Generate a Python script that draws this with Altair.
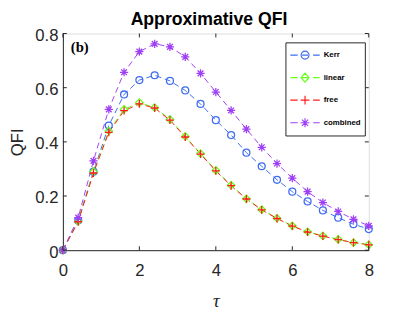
import altair as alt
import pandas as pd

# ---- data ----
tau = [0.0, 0.4, 0.8, 1.2, 1.6, 2.0, 2.4, 2.8, 3.2, 3.6, 4.0,
       4.4, 4.8, 5.2, 5.6, 6.0, 6.4, 6.8, 7.2, 7.6, 8.0]
kerr = [0.0, 0.11, 0.29, 0.46, 0.575, 0.628, 0.646, 0.625, 0.59, 0.54, 0.48,
        0.425, 0.36, 0.31, 0.26, 0.216, 0.18, 0.147, 0.12, 0.096, 0.078]
linear = [0.0, 0.107, 0.29, 0.44, 0.52, 0.545, 0.527, 0.483, 0.42, 0.357, 0.295,
          0.24, 0.19, 0.15, 0.118, 0.09, 0.068, 0.053, 0.04, 0.028, 0.02]
free = [0.0, 0.105, 0.285, 0.435, 0.515, 0.54, 0.525, 0.48, 0.418, 0.355, 0.293,
        0.238, 0.189, 0.149, 0.117, 0.089, 0.067, 0.052, 0.039, 0.028, 0.02]
combined = [0.0, 0.12, 0.33, 0.52, 0.657, 0.733, 0.762, 0.751, 0.714, 0.653, 0.584,
            0.516, 0.447, 0.38, 0.32, 0.266, 0.216, 0.176, 0.143, 0.114, 0.09]
series = ["Kerr", "linear", "free", "combined"]
x_ticks = [0, 2, 4, 6, 8]
y_ticks = [0, 0.2, 0.4, 0.6, 0.8]

# ---- styles ----
colors = ["#3f6cf2", "#66ff1a", "#ff1a1a", "#a040f5"]
PLUS = "M-1,0L1,0M0,-1L0,1"
AST = "M-1,0L1,0M0,-1L0,1M-0.7,-0.7L0.7,0.7M-0.7,0.7L0.7,-0.7"
plot_shapes = ["circle", "diamond", PLUS, AST]
plot_sizes = [50, 70, 81, 81]
legend_shapes = [
    "M-1,0L-0.5,0M-0.2,0L0.2,0M0.55,0L1,0M-0.27,0A0.27,0.27 0 1,1 0.27,0A0.27,0.27 0 1,1 -0.27,0",
    "M-1,0L-0.5,0M-0.2,0L0.2,0M0.55,0L1,0M-0.27,0L0,-0.3L0.27,0L0,0.3Z",
    "M-1,0L-0.5,0M0.55,0L1,0M-0.3,0L0.3,0M0,-0.3L0,0.3",
    "M-1,0L-0.5,0M0.55,0L1,0M-0.3,0L0.3,0M0,-0.3L0,0.3M-0.21,-0.21L0.21,0.21M-0.21,0.21L0.21,-0.21",
]
AX = "#262626"
W, H = 312, 221

rows = []
for name, vals in zip(series, [kerr, linear, free, combined]):
    for t, v in zip(tau, vals):
        rows.append({"tau": t, "QFI": v, "series": name})
df = pd.DataFrame(rows)

x_axis = alt.Axis(values=x_ticks, format="d", ticks=False, grid=False, domainColor=AX,
                  labelFlush=False,
                  labelFont="Liberation Sans", labelFontSize=17, labelColor=AX, labelPadding=13,
                  titleFont="Liberation Serif", titleFontStyle="italic", titleFontWeight="normal",
                  titleFontSize=19, titleColor=AX, titlePadding=13)
y_axis = alt.Axis(values=y_ticks, ticks=False, grid=False, domainColor=AX,
                  labelFlush=False,
                  labelExpr="datum.value == 0 ? '0' : format(datum.value, '.1f')",
                  labelFont="Liberation Sans", labelFontSize=17, labelColor=AX, labelPadding=5,
                  labelOffset=2,
                  titleFont="Liberation Sans", titleFontWeight="normal", titleFontSize=17,
                  titleColor=AX, titlePadding=9)
X = alt.X("tau:Q", scale=alt.Scale(domain=[0, 8], nice=False), axis=x_axis, title="τ")
Y = alt.Y("QFI:Q", scale=alt.Scale(domain=[0, 0.8], nice=False), axis=y_axis, title="QFI")
cscale = alt.Scale(domain=series, range=colors)

base = alt.Chart(df)
lines = base.mark_line(strokeDash=[6, 4], strokeWidth=1).encode(
    x=X, y=Y, color=alt.Color("series:N", scale=cscale, legend=None),
    detail="series:N")
points = base.mark_point(filled=False, strokeWidth=1.3, opacity=1).encode(
    x=X, y=Y,
    color=alt.Color("series:N", scale=cscale, legend=None),
    shape=alt.Shape("series:N", scale=alt.Scale(domain=series, range=plot_shapes), legend=None),
    size=alt.Size("series:N", scale=alt.Scale(domain=series, range=plot_sizes), legend=None),
)
leg = alt.Legend(title=None, orient="none", legendX=227, legendY=9, strokeColor=AX,
                 fillColor="white", padding=4, symbolSize=900, clipHeight=18, rowPadding=5,
                 labelOffset=3, labelFont="Liberation Sans", labelFontWeight="bold",
                 labelFontSize=8, labelColor="black", symbolStrokeWidth=1.2, symbolOpacity=1)
legend_layer = base.mark_point(filled=False, opacity=0).encode(
    x=X, y=Y,
    color=alt.Color("series:N", scale=alt.Scale(domain=series, range=colors), legend=leg),
    shape=alt.Shape("series:N", scale=alt.Scale(domain=series, range=legend_shapes), legend=leg),
)

xt = alt.Chart(pd.DataFrame({"tau": x_ticks}))
yt = alt.Chart(pd.DataFrame({"QFI": y_ticks}))
tick_style = dict(color=AX, strokeWidth=1)
xb = xt.mark_rule(**tick_style).encode(x=X, y=alt.value(H), y2=alt.value(H - 4))
xtop = xt.mark_rule(**tick_style).encode(x=X, y=alt.value(0), y2=alt.value(4))
yl = yt.mark_rule(**tick_style).encode(y=Y, x=alt.value(0), x2=alt.value(4))
yr = yt.mark_rule(**tick_style).encode(y=Y, x=alt.value(W), x2=alt.value(W - 4))

label = alt.Chart(pd.DataFrame({"t": ["(b)"]})).mark_text(
    align="left", baseline="alphabetic", font="Liberation Serif", fontWeight="bold",
    fontSize=15, color="black").encode(x=alt.value(8), y=alt.value(19), text="t:N")

chart = alt.layer(lines, points, legend_layer, xb, xtop, yl, yr, label).resolve_scale(
    color="independent", shape="independent", size="independent"
).properties(
    width=W, height=H,
    title=alt.TitleParams("Approximative QFI", fontSize=18, fontWeight="bold",
                          font="Liberation Sans", color="black", anchor="middle",
                          offset=0, dx=-7, dy=2),
    autosize=alt.AutoSizeParams(type="none"),
    padding={"left": 56, "top": 23, "right": 39, "bottom": 60},
).configure_view(stroke=AX, strokeWidth=1).configure(background="white")

chart.save("out.html", embed_options={"renderer": "svg", "actions": False})
